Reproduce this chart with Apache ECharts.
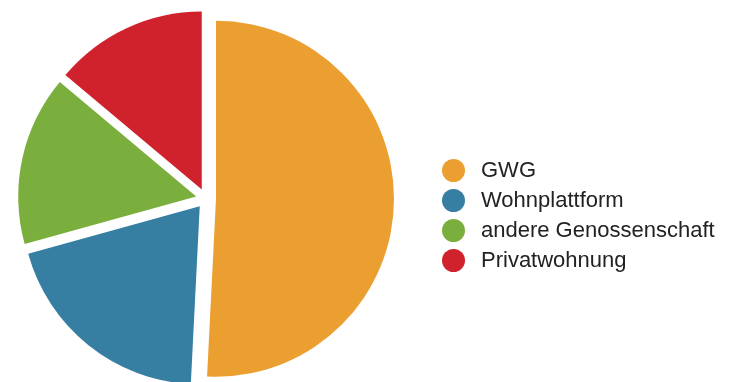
<!DOCTYPE html>
<html>
<head>
<meta charset="utf-8">
<script src="https://cdn.jsdelivr.net/npm/echarts@6/dist/echarts.min.js"></script>
<style>
  html, body { margin: 0; padding: 0; background: #fff; }
  #chart { width: 729px; height: 382px; }
</style>
</head>
<body>
<div id="chart"></div>
<script>
// data (share in %)
var categories = ['GWG', 'Wohnplattform', 'andere Genossenschaft', 'Privatwohnung'];
var shares = [50.8, 19.9, 15.4, 13.9];
var colors = ['#EC9F31', '#367EA2', '#7BAF3D', '#D0222D'];

var chart = echarts.init(document.getElementById('chart'));

var pieData = categories.map(function (name, i) {
  return {
    name: name,
    value: shares[i],
    selected: true,
    itemStyle: { color: colors[i] }
  };
});

var option = {
  animation: false,
  legend: {
    orient: 'vertical',
    left: 442,
    top: 159,
    padding: 0,
    icon: 'circle',
    itemWidth: 23,
    itemHeight: 23,
    itemGap: 7,
    selectedMode: false,
    textStyle: {
      color: '#222',
      fontSize: 22,
      fontFamily: "'Liberation Sans', sans-serif",
      padding: [0, 0, 0, 11]
    },
    data: categories
  },
  series: [
    {
      type: 'pie',
      center: [206, 198.5],
      radius: [0, 178],
      startAngle: 90,
      clockwise: true,
      selectedMode: 'multiple',
      selectedOffset: 10,
      label: { show: false },
      labelLine: { show: false },
      emphasis: { disabled: true },
      itemStyle: { borderWidth: 0 },
      select: { itemStyle: { borderWidth: 0 } },
      data: pieData
    }
  ]
};

chart.setOption(option);
</script>
</body>
</html>
